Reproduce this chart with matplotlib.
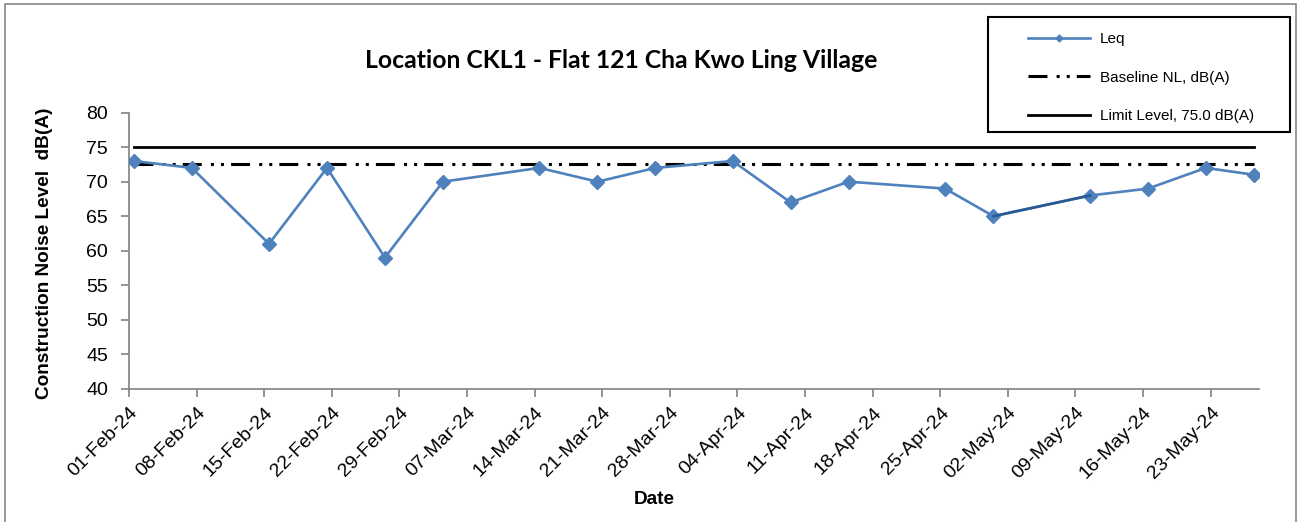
import matplotlib
matplotlib.use("Agg")
import matplotlib.pyplot as plt
import matplotlib.dates as mdates
import pandas as pd

plt.rcParams['font.family'] = ['Liberation Sans', 'DejaVu Sans']

# measurement dates and Leq values
dates = ["2024-02-01", "2024-02-07", "2024-02-15", "2024-02-21", "2024-02-27",
         "2024-03-04", "2024-03-14", "2024-03-20", "2024-03-26", "2024-04-03",
         "2024-04-09", "2024-04-15", "2024-04-25", "2024-04-30", "2024-05-10",
         "2024-05-16", "2024-05-22", "2024-05-27"]
leq = [73, 72, 61, 72, 59, 70, 72, 70, 72, 73, 67, 70, 69, 65, 68, 69, 72, 71]

baseline = 72.5
limit = 75.0

tick_start = "2024-02-01"
tick_end = "2024-05-23"
x_end = "2024-05-28"

W, H = 1298, 522

# excel date axis puts each point in the middle of its day
x = pd.to_datetime(dates) + pd.Timedelta(hours=12)
span = [x[0], x[-1]]

fig = plt.figure(figsize=(W / 100, H / 100), dpi=100)
ax = fig.add_axes([129 / W, 1 - 388.7 / H, 1130 / W, 276 / H])

blue = "#4F81BD"
ax.plot(x, leq, color=blue, lw=1.9, marker="D", ms=7, label="Leq", zorder=4)
# one segment is drawn darker in the original
ax.plot(x[13:15], leq[13:15], color="#2A5A92", lw=1.9, zorder=4)
ax.plot(span, [baseline, baseline], color="black", lw=2.2,
        dashes=(6.2, 3, 1, 2.3, 1, 2.3), label="Baseline NL, dB(A)", zorder=3)
ax.plot(span, [limit, limit], color="black", lw=2.0,
        label="Limit Level, 75.0 dB(A)", zorder=3)

ax.set_xlim(pd.Timestamp(tick_start), pd.Timestamp(x_end))
ax.set_ylim(40, 80)
ax.set_yticks(range(40, 81, 5))
ax.set_xticks(pd.date_range(tick_start, tick_end, freq="7D"))
ax.xaxis.set_major_formatter(mdates.DateFormatter("%d-%b-%y"))
plt.setp(ax.get_xticklabels(), rotation=45, ha="right", rotation_mode="anchor")

for s in ["top", "right"]:
    ax.spines[s].set_visible(False)
for s in ["left", "bottom"]:
    ax.spines[s].set_color("#808080")
    ax.spines[s].set_linewidth(1.2)
ax.tick_params(axis="both", direction="out", length=6, width=1.2,
               color="#808080", labelsize=14, labelcolor="black")
ax.tick_params(axis="y", pad=9)
ax.tick_params(axis="x", pad=5)

fig.text(45 / W, 1 - 253 / H, "Construction Noise Level  dB(A)", rotation=90,
         ha="center", va="center", fontsize=13.7, fontweight="bold")
fig.text(654 / W, 1 - 500 / H, "Date", ha="center", va="center",
         fontsize=13.7, fontweight="bold")

fig.text(621 / W, 1 - 60 / H, "Location CKL1 - Flat 121 Cha Kwo Ling Village",
         ha="center", va="center", fontsize=17.8, fontweight="bold",
         family=["Lato", "DejaVu Sans"])

# legend box drawn separately so the entries can sit inset like in excel
fig.patches.append(plt.Rectangle((988 / W, 1 - 132 / H), 302 / W, 115 / H,
                                 transform=fig.transFigure, fill=False,
                                 edgecolor="black", lw=1.5))
leg = fig.legend(loc="upper left", bbox_to_anchor=(1028 / W, 1 - 32 / H),
                 fontsize=11, frameon=False, handlelength=4.05,
                 labelspacing=1.61, borderpad=0, handletextpad=0.65,
                 borderaxespad=0, markerscale=0.5)

# outer chart border
fig.patches.append(plt.Rectangle((5 / W, -0.05), 1291 / W, 1.05 - 4 / H,
                                 transform=fig.transFigure, fill=False,
                                 edgecolor="#888888", lw=1.2))

fig.savefig("out.png", dpi=100)
